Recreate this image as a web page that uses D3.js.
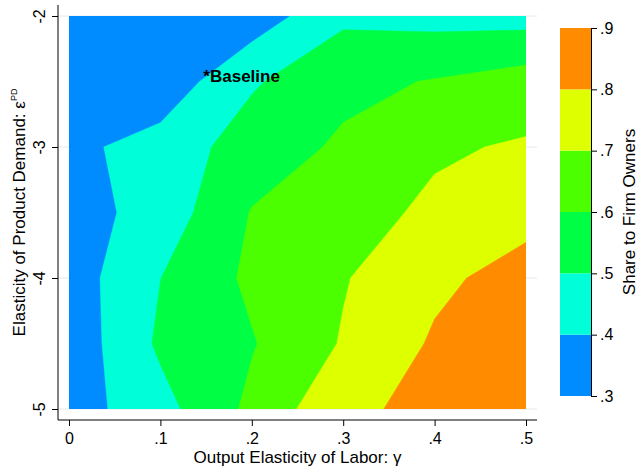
<!DOCTYPE html>
<html>
<head>
<meta charset="utf-8">
<script src="https://cdn.jsdelivr.net/npm/d3@7"></script>
<style>
  body { margin: 0; background: #fff; }
  text { font-family: "Liberation Sans", Arial, Helvetica, sans-serif; fill: #000; }
</style>
</head>
<body>
<svg id="chart" width="639" height="466"></svg>
<script>
// simulation grid: one row per epsilon, one column per gamma
const gammas = [0, 0.1, 0.2, 0.3, 0.4, 0.5];
const epsilons = [-2, -2.5, -3, -3.5, -4, -4.5, -5];
const share = [
  [0.310, 0.330, 0.342, 0.480, 0.466, 0.460],
  [0.320, 0.334, 0.488, 0.575, 0.606, 0.647],
  [0.376, 0.439, 0.548, 0.615, 0.688, 0.710],
  [0.355, 0.441, 0.605, 0.665, 0.717, 0.769],
  [0.349, 0.499, 0.620, 0.693, 0.780, 0.837],
  [0.334, 0.517, 0.593, 0.708, 0.812, 0.860],
  [0.352, 0.465, 0.623, 0.780, 0.825, 0.880]
];
const levels = [0.3, 0.4, 0.5, 0.6, 0.7, 0.8, 0.9];
const levelLabels = [".3", ".4", ".5", ".6", ".7", ".8", ".9"];
const xTicks = [0, 0.1, 0.2, 0.3, 0.4, 0.5];
const xTickLabels = ["0", ".1", ".2", ".3", ".4", ".5"];
const yTicks = [-2, -3, -4, -5];
const yTickLabels = ["-2", "-3", "-4", "-5"];
const baselinePoint = { gamma: 0.147, eps: -2.5, label: "*Baseline" };

const bandColors = ["#008cff", "#00ffd9", "#00ff44", "#4cff00", "#ddff00", "#ff8c00"];

const svg = d3.select('#chart');
const x = d3.scaleLinear().domain([0, 0.5]).range([69, 526]);
const y = d3.scaleLinear().domain([-2, -5]).range([16, 409]);
const pad = 11;
const plotLeft = x.range()[0] - pad, plotRight = x.range()[1] + pad;
const plotTop = y.range()[0] - pad, plotBottom = y.range()[1] + pad;

// horizontal grid lines
svg.append('g')
    .selectAll('line')
    .data(yTicks)
    .join('line')
    .attr('x1', plotLeft)
    .attr('x2', plotRight)
    .attr('y1', d => y(d))
    .attr('y2', d => y(d))
    .attr('stroke', '#e3eaed')
    .attr('stroke-width', 1);

// filled contours, grid index space -> data -> pixels
const nx = gammas.length, ny = epsilons.length;
const ix = d3.scaleLinear().domain([0.5, nx - 0.5]).range([x(gammas[0]), x(gammas[nx - 1])]);
const iy = d3.scaleLinear().domain([0.5, ny - 0.5]).range([y(epsilons[0]), y(epsilons[ny - 1])]);
const proj = d3.geoTransform({
    point: function(px, py) { this.stream.point(ix(px), iy(py)); }
});
const path = d3.geoPath(proj);

const bands = d3.contours()
    .size([nx, ny])
    .thresholds(levels.slice(0, -1))(share.flat());

svg.append('clipPath')
    .attr('id', 'clip')
    .append('rect')
    .attr('x', x(gammas[0]))
    .attr('y', y(epsilons[0]))
    .attr('width', x(gammas[nx - 1]) - x(gammas[0]))
    .attr('height', y(epsilons[ny - 1]) - y(epsilons[0]));

svg.append('g')
    .attr('clip-path', 'url(#clip)')
    .selectAll('path')
    .data(bands)
    .join('path')
    .attr('d', path)
    .attr('fill', (d, i) => bandColors[i])
    .attr('stroke', (d, i) => bandColors[i])
    .attr('stroke-width', 0.5);

// baseline marker label
svg.append('text')
    .attr('x', x(baselinePoint.gamma))
    .attr('y', y(baselinePoint.eps))
    .attr('font-size', 17)
    .attr('font-weight', 'bold')
    .text(baselinePoint.label);

// x axis
const xAxis = svg.append('g')
    .attr('transform', `translate(0,${plotBottom})`)
    .call(d3.axisBottom(x).tickValues(xTicks).tickFormat((d, i) => xTickLabels[i]).tickSize(6).tickSizeOuter(0));
xAxis.select('.domain').remove();
xAxis.append('line').attr('x1', plotLeft).attr('x2', plotRight).attr('stroke', '#000');
xAxis.selectAll('.tick line').attr('stroke', '#000');
xAxis.selectAll('.tick text')
    .attr('y', 24).attr('dy', null)
    .attr('font-size', 16).attr('font-family', null).attr('fill', '#000');

// y axis
const yAxis = svg.append('g')
    .attr('transform', `translate(${plotLeft},0)`)
    .call(d3.axisLeft(y).tickValues(yTicks).tickFormat((d, i) => yTickLabels[i]).tickSize(6).tickSizeOuter(0));
yAxis.select('.domain').remove();
yAxis.append('line').attr('y1', plotTop).attr('y2', plotBottom).attr('stroke', '#000');
yAxis.selectAll('.tick line').attr('stroke', '#000');
yAxis.selectAll('.tick text')
    .attr('x', null).attr('dy', null)
    .attr('text-anchor', 'middle')
    .attr('transform', 'translate(-13,0) rotate(-90)')
    .attr('font-size', 16).attr('font-family', null).attr('fill', '#000');

// axis titles
svg.append('text')
    .attr('x', (plotLeft + plotRight) / 2)
    .attr('y', 462.5)
    .attr('text-anchor', 'middle')
    .attr('font-size', 17)
    .text('Output Elasticity of Labor: γ');

const yTitle = svg.append('text')
    .attr('transform', `translate(24.5,${(plotTop + plotBottom) / 2}) rotate(-90)`)
    .attr('text-anchor', 'middle')
    .attr('font-size', 17);
yTitle.append('tspan').text('Elasticity of Product Demand: ε');
yTitle.append('tspan').attr('font-size', 9).attr('dy', -8).text('PD');

// colour key
const cy = d3.scaleLinear().domain([levels[0], levels[levels.length - 1]]).range([396, 28]);
const keyX = 560, keyW = 31;
svg.append('g')
    .selectAll('rect')
    .data(bandColors)
    .join('rect')
    .attr('x', keyX)
    .attr('width', keyW)
    .attr('y', (d, i) => cy(levels[i + 1]))
    .attr('height', (d, i) => cy(levels[i]) - cy(levels[i + 1]))
    .attr('fill', d => d);

const keyAxis = svg.append('g')
    .attr('transform', `translate(${keyX + keyW},0)`)
    .call(d3.axisRight(cy).tickValues(levels).tickFormat((d, i) => levelLabels[i]).tickSize(6).tickSizeOuter(0));
keyAxis.select('.domain').attr('stroke', '#000');
keyAxis.selectAll('.tick line').attr('stroke', '#000');
keyAxis.selectAll('.tick text')
    .attr('x', 9)
    .attr('font-size', 16).attr('font-family', null).attr('fill', '#000');

svg.append('text')
    .attr('transform', `translate(635,${(cy.range()[0] + cy.range()[1]) / 2}) rotate(-90)`)
    .attr('text-anchor', 'middle')
    .attr('font-size', 17)
    .text('Share to Firm Owners');
</script>
</body>
</html>
